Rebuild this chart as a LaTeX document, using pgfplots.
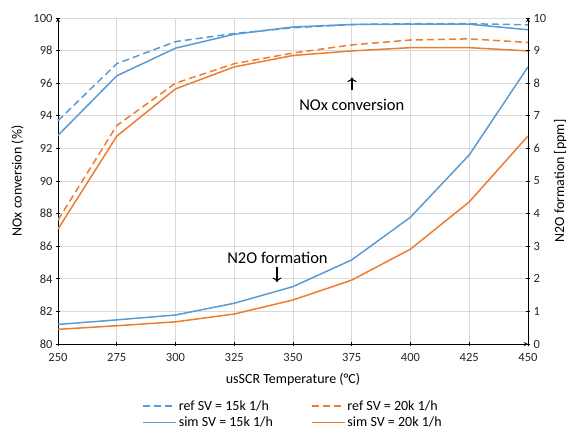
\documentclass[border=0pt]{standalone}
\usepackage{fontspec}
\setmainfont{Carlito}
\usepackage{pgfplots}
\pgfplotsset{compat=1.18}
\usetikzlibrary{arrows.meta}
\definecolor{cblue}{HTML}{5B9BD5}
\definecolor{corange}{HTML}{ED7D31}
\definecolor{cgrid}{HTML}{D9D9D9}
\begin{document}
\begin{tikzpicture}
\useasboundingbox (0pt,0pt) rectangle (568pt,429pt);
\pgfplotsset{
  common/.style={
    scale only axis, width=470pt, height=326pt,
    xmin=250, xmax=450,
    tick align=outside,
    axis line style={-, black, line width=0.9pt},
    major tick style={black, line width=0.8pt},
    major tick length=4pt,
    tick label style={font=\fontsize{12.5}{14}\selectfont, color=black!85},
    /pgf/number format/assume math mode=true,
  }
}
\begin{axis}[common,
  at={(58pt,85pt)}, anchor=south west,
  axis x line=bottom, axis y line=left,
  ymin=80, ymax=100, ytick={80,82,...,100},
  xtick={250,275,...,450},
  xticklabel style={yshift=-4pt},
  grid=major, major grid style={cgrid, line width=0.8pt},
  xlabel={usSCR Temperature (°C)},
  ylabel={NOx conversion (\%)},
  xlabel style={font=\fontsize{14}{16}\selectfont, yshift=-5pt},
  ylabel style={font=\fontsize{14}{16}\selectfont, yshift=3pt},
  legend columns=2,
  legend style={at={(0.5,-0.16)}, anchor=north, draw=none, fill=none,
    font=\fontsize{14}{16}\selectfont, row sep=1.5pt,
    /tikz/every even column/.append style={column sep=36pt}},
  legend cell align=left,
  legend image code/.code={\draw[#1] (0pt,0pt) -- (33pt,0pt);},
]
\addlegendimage{cblue, line width=1.5pt, dash pattern=on 7pt off 4pt}
\addlegendentry{ref SV = 15k 1/h}
\addlegendimage{corange, line width=1.5pt, dash pattern=on 7pt off 4pt}
\addlegendentry{ref SV = 20k 1/h}
\addlegendimage{cblue, line width=1.5pt}
\addlegendentry{sim SV = 15k 1/h}
\addlegendimage{corange, line width=1.5pt}
\addlegendentry{sim SV = 20k 1/h}
% ref 15k
\addplot[forget plot, cblue, line width=1.5pt, dash pattern=on 7pt off 4pt] coordinates {
(250,93.7) (275,97.2) (300,98.55) (325,99.05) (350,99.4) (375,99.6) (400,99.65) (425,99.65) (450,99.58)};
% sim 15k
\addplot[forget plot, cblue, line width=1.5pt] coordinates {
(250,92.8) (275,96.45) (300,98.15) (325,99.0) (350,99.45) (375,99.6) (400,99.62) (425,99.62) (450,99.28)};
% ref 20k
\addplot[forget plot, corange, line width=1.5pt, dash pattern=on 7pt off 4pt] coordinates {
(250,87.6) (275,93.4) (300,96.0) (325,97.2) (350,97.85) (375,98.35) (400,98.65) (425,98.72) (450,98.5)};
% sim 20k
\addplot[forget plot, corange, line width=1.5pt] coordinates {
(250,87.05) (275,92.75) (300,95.65) (325,97.0) (350,97.7) (375,97.98) (400,98.18) (425,98.18) (450,97.98)};
\node[font=\fontsize{16.5}{18}\selectfont] at (axis cs:375,94.66) {NOx conversion};
\draw[-{To[length=4.5pt,width=9pt]}, line width=1.1pt] (axis cs:375.1,95.6) -- (axis cs:375.1,96.35);
\node[font=\fontsize{16.5}{18}\selectfont] at (axis cs:343.4,85.28) {N2O formation};
\draw[-{To[length=4.5pt,width=9pt]}, line width=1.1pt] (axis cs:343.2,84.7) -- (axis cs:343.2,83.8);
\end{axis}
\begin{axis}[common,
  at={(58pt,85pt)}, anchor=south west,
  axis x line=none, axis y line=right,
  ymin=0, ymax=10, ytick={0,1,...,10},
  ylabel={N2O formation [ppm]},
  ylabel style={font=\fontsize{14}{16}\selectfont, yshift=-1pt},
]
\addplot[cblue, line width=1.5pt] coordinates {
(250,0.6) (275,0.74) (300,0.89) (325,1.25) (350,1.76) (375,2.58) (400,3.89) (425,5.8) (450,8.5)};
\addplot[corange, line width=1.5pt] coordinates {
(250,0.45) (275,0.56) (300,0.68) (325,0.92) (350,1.35) (375,1.96) (400,2.91) (425,4.36) (450,6.38)};
\end{axis}
\end{tikzpicture}
\end{document}
